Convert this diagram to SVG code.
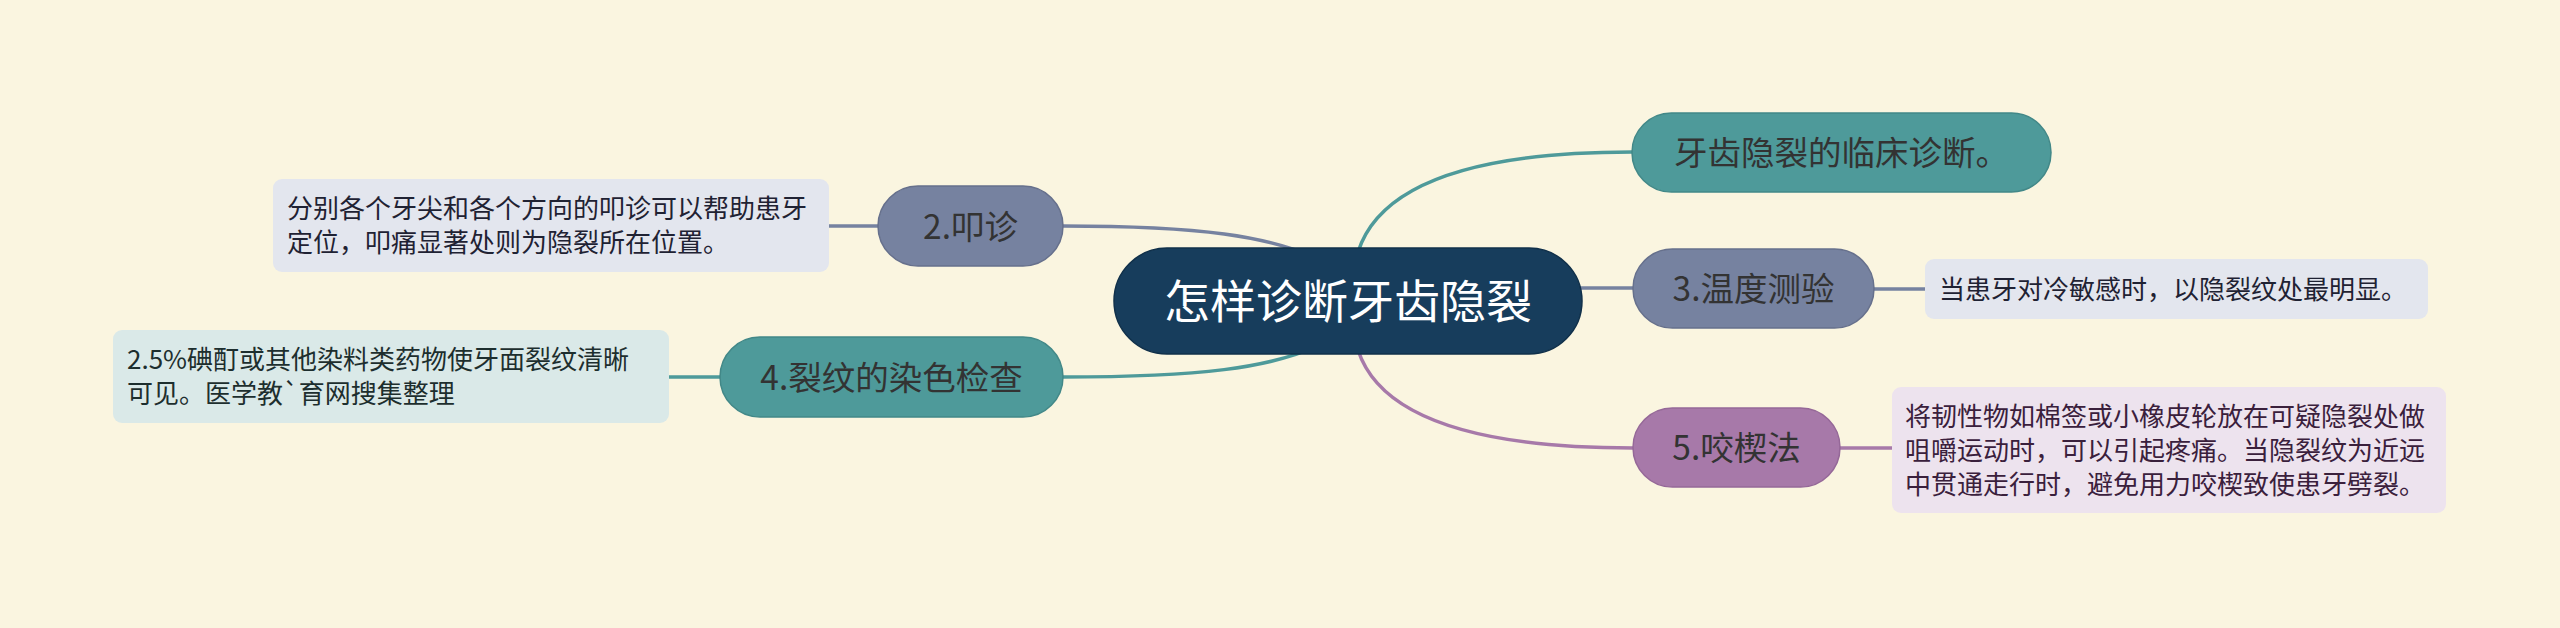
<svg xmlns="http://www.w3.org/2000/svg" width="2560" height="628" viewBox="0 0 2560 628">
<style>
.cjk{font-family:"Noto Sans CJK SC","Noto Sans",sans-serif}
.t1{font-size:33.5px;fill:#333333;text-anchor:middle}
.t0{font-size:46px;fill:#ffffff;text-anchor:middle}
.leaf{font-size:26px}
.con{fill:none;stroke-width:3.5;stroke-linecap:round}
</style>
<rect width="2560" height="628" fill="#faf5e0"/>
<g id="connectors">
  <path class="con" stroke="#4e9a9a" d="M1358 252 Q1390 152 1632 152"/>
  <path class="con" stroke="#7682a0" d="M1063 226 C1200 226 1270 236 1320 260"/>
  <path class="con" stroke="#4e9a9a" d="M1063 377 C1200 377 1270 368 1320 345"/>
  <path class="con" stroke="#a779a9" d="M1358 350 Q1390 448 1633 448"/>
  <path class="con" stroke="#7682a0" d="M1575 288 L1633 288"/>
  <path class="con" stroke="#7682a0" d="M878 226 L829 226"/>
  <path class="con" stroke="#4e9a9a" d="M720 377 L667 377"/>
  <path class="con" stroke="#7682a0" d="M1874 289 L1925 289"/>
  <path class="con" stroke="#a779a9" d="M1840 448 L1892 448"/>
</g>
<g id="center">
  <rect x="1114" y="248" width="468" height="106" rx="53" fill="#173d5c" stroke="#10304a" stroke-width="1.5"/>
  <text class="cjk t0" x="1348" y="318">怎样诊断牙齿隐裂</text>
</g>
<g id="n1">
  <rect x="1632" y="113" width="419" height="79" rx="39.5" fill="#4e9a9a" stroke="#428888" stroke-width="1.5"/>
  <text class="cjk t1" x="1841.5" y="165">牙齿隐裂的临床诊断。</text>
</g>
<g id="n2">
  <rect x="878" y="186" width="185" height="80" rx="40" fill="#7682a0" stroke="#66708c" stroke-width="1.5"/>
  <text class="cjk t1" x="970.5" y="238.5">2.叩诊</text>
</g>
<g id="n3">
  <rect x="1633" y="249" width="241" height="79" rx="39.5" fill="#7682a0" stroke="#66708c" stroke-width="1.5"/>
  <text class="cjk t1" x="1753.5" y="301">3.温度测验</text>
</g>
<g id="n4">
  <rect x="720" y="337" width="343" height="80" rx="40" fill="#4e9a9a" stroke="#428888" stroke-width="1.5"/>
  <text class="cjk t1" x="891.5" y="389.5">4.裂纹的染色检查</text>
</g>
<g id="n5">
  <rect x="1633" y="408" width="207" height="79" rx="39.5" fill="#a779a9" stroke="#956898" stroke-width="1.5"/>
  <text class="cjk t1" x="1736.5" y="460">5.咬楔法</text>
</g>
<g id="leaf2">
  <rect x="273" y="179" width="556" height="93" rx="9" fill="#e3e6ee"/>
  <text class="cjk leaf" fill="#1f2233" x="287" y="218">分别各个牙尖和各个方向的叩诊可以帮助患牙</text>
  <text class="cjk leaf" fill="#1f2233" x="287" y="252">定位，叩痛显著处则为隐裂所在位置。</text>
</g>
<g id="leaf3">
  <rect x="1925" y="259" width="503" height="60" rx="9" fill="#e3e6ee"/>
  <text class="cjk leaf" fill="#1f2233" x="1939" y="299">当患牙对冷敏感时，以隐裂纹处最明显。</text>
</g>
<g id="leaf4">
  <rect x="113" y="330" width="556" height="93" rx="9" fill="#dae9e8"/>
  <text class="cjk leaf" fill="#1d2e2e" x="127" y="369">2.5%碘酊或其他染料类药物使牙面裂纹清晰</text>
  <text class="cjk leaf" fill="#1d2e2e" x="127" y="403">可见。医学教`育网搜集整理</text>
</g>
<g id="leaf5">
  <rect x="1892" y="387" width="554" height="126" rx="9" fill="#ede3ee"/>
  <text class="cjk leaf" fill="#3a203c" x="1905" y="426">将韧性物如棉签或小橡皮轮放在可疑隐裂处做</text>
  <text class="cjk leaf" fill="#3a203c" x="1905" y="460">咀嚼运动时，可以引起疼痛。当隐裂纹为近远</text>
  <text class="cjk leaf" fill="#3a203c" x="1905" y="494">中贯通走行时，避免用力咬楔致使患牙劈裂。</text>
</g>
</svg>
